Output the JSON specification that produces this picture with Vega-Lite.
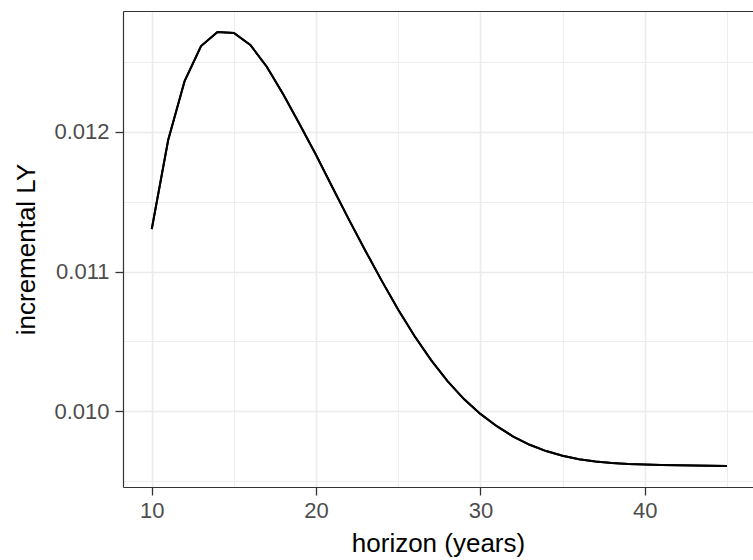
{
  "$schema": "https://vega.github.io/schema/vega-lite/v6.json",
  "width": 630,
  "height": 476,
  "autosize": {"type": "none"},
  "padding": {"left": 123, "top": 11, "right": 0, "bottom": 73},
  "background": "white",
  "config": {
    "font": "Liberation Sans",
    "view": {"stroke": null},
    "axis": {
      "labelFont": "Liberation Sans",
      "titleFont": "Liberation Sans",
      "labelColor": "#4D4D4D",
      "titleColor": "#000000",
      "labelFontSize": 22,
      "titleFontSize": 26,
      "titleFontWeight": "normal",
      "tickColor": "#333333",
      "tickSize": 8,
      "tickWidth": 1.3,
      "domainColor": "#333333",
      "domainWidth": 1.2,
      "gridColor": "#EBEBEB"
    }
  },
  "data": {
    "values": [
      {"horizon": 10, "ly": 0.011303},
      {"horizon": 11, "ly": 0.011941},
      {"horizon": 12, "ly": 0.012363},
      {"horizon": 13, "ly": 0.012613},
      {"horizon": 14, "ly": 0.012714},
      {"horizon": 15, "ly": 0.012707},
      {"horizon": 16, "ly": 0.012621},
      {"horizon": 17, "ly": 0.012465},
      {"horizon": 18, "ly": 0.012268},
      {"horizon": 19, "ly": 0.012053},
      {"horizon": 20, "ly": 0.011833},
      {"horizon": 21, "ly": 0.011601},
      {"horizon": 22, "ly": 0.011371},
      {"horizon": 23, "ly": 0.011149},
      {"horizon": 24, "ly": 0.010933},
      {"horizon": 25, "ly": 0.010727},
      {"horizon": 26, "ly": 0.010537},
      {"horizon": 27, "ly": 0.010366},
      {"horizon": 28, "ly": 0.010216},
      {"horizon": 29, "ly": 0.010087},
      {"horizon": 30, "ly": 0.009981},
      {"horizon": 31, "ly": 0.009893},
      {"horizon": 32, "ly": 0.009819},
      {"horizon": 33, "ly": 0.009760},
      {"horizon": 34, "ly": 0.009715},
      {"horizon": 35, "ly": 0.009681},
      {"horizon": 36, "ly": 0.009657},
      {"horizon": 37, "ly": 0.009641},
      {"horizon": 38, "ly": 0.009630},
      {"horizon": 39, "ly": 0.009623},
      {"horizon": 40, "ly": 0.009619},
      {"horizon": 41, "ly": 0.009616},
      {"horizon": 42, "ly": 0.009613},
      {"horizon": 43, "ly": 0.009611},
      {"horizon": 44, "ly": 0.009610},
      {"horizon": 45, "ly": 0.009609}
    ]
  },
  "resolve": {"axis": {"x": "independent"}},
  "layer": [
    {
      "mark": {"type": "line", "color": "black", "strokeWidth": 2},
      "encoding": {
        "x": {
          "field": "horizon",
          "type": "quantitative",
          "scale": {"domain": [8.25, 46.59], "nice": false, "zero": false},
          "axis": {
            "orient": "bottom",
            "title": "horizon (years)",
            "values": [10, 15, 20, 25, 30, 35, 40, 45],
            "labelExpr": "datum.value % 10 === 0 ? datum.label : ''",
            "tickOpacity": {"condition": {"test": "datum.value % 10 === 0", "value": 1}, "value": 0},
            "gridWidth": {"condition": {"test": "datum.value % 10 === 0", "value": 1.6}, "value": 0.9},
            "grid": true,
            "labelPadding": 5,
            "titlePadding": 9
          }
        },
        "y": {
          "field": "ly",
          "type": "quantitative",
          "scale": {"domain": [0.009458, 0.012864], "nice": false, "zero": false},
          "axis": {
            "orient": "left",
            "title": "incremental LY",
            "values": [0.0095, 0.01, 0.0105, 0.011, 0.0115, 0.012, 0.0125],
            "format": ".3f",
            "labelExpr": "abs(datum.value*1000 - round(datum.value*1000)) < 0.000001 ? datum.label : ''",
            "tickOpacity": {"condition": {"test": "abs(datum.value*1000 - round(datum.value*1000)) < 0.000001", "value": 1}, "value": 0},
            "gridWidth": {"condition": {"test": "abs(datum.value*1000 - round(datum.value*1000)) < 0.000001", "value": 1.6}, "value": 0.9},
            "grid": true,
            "labelPadding": 6,
            "titlePadding": 14
          }
        }
      }
    },
    {
      "mark": {"type": "line", "color": "black", "strokeWidth": 2},
      "encoding": {
        "x": {
          "field": "horizon",
          "type": "quantitative",
          "axis": {
            "orient": "top",
            "title": null,
            "labels": false,
            "ticks": false,
            "grid": false,
            "domain": true
          }
        },
        "y": {"field": "ly", "type": "quantitative"}
      }
    }
  ]
}
